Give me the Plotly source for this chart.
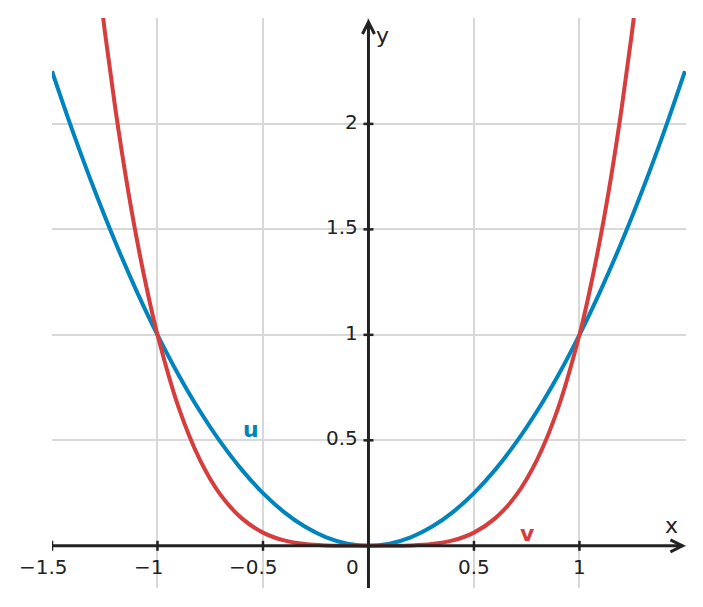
import plotly.graph_objects as go

# data
x_vals = [-1.5, -1.4, -1.3, -1.2, -1.1, -1.0, -0.9, -0.8, -0.7, -0.6, -0.5, -0.4, -0.3, -0.2, -0.1,
          0.0, 0.1, 0.2, 0.3, 0.4, 0.5, 0.6, 0.7, 0.8, 0.9, 1.0, 1.1, 1.2, 1.3, 1.4, 1.5]
u_vals = [2.25, 1.96, 1.69, 1.44, 1.21, 1.0, 0.81, 0.64, 0.49, 0.36, 0.25, 0.16, 0.09, 0.04, 0.01,
          0.0, 0.01, 0.04, 0.09, 0.16, 0.25, 0.36, 0.49, 0.64, 0.81, 1.0, 1.21, 1.44, 1.69, 1.96, 2.25]
v_x = [-1.35, -1.3, -1.25, -1.2, -1.15, -1.1, -1.05, -1.0, -0.9, -0.8, -0.7, -0.6, -0.5, -0.4, -0.3, -0.2, -0.1,
       0.0, 0.1, 0.2, 0.3, 0.4, 0.5, 0.6, 0.7, 0.8, 0.9, 1.0, 1.05, 1.1, 1.15, 1.2, 1.25, 1.3, 1.35]
v_vals = [3.32, 2.856, 2.441, 2.074, 1.749, 1.464, 1.216, 1.0, 0.656, 0.41, 0.24, 0.13, 0.0625, 0.0256, 0.0081, 0.0016, 0.0001,
          0.0, 0.0001, 0.0016, 0.0081, 0.0256, 0.0625, 0.13, 0.24, 0.41, 0.656, 1.0, 1.216, 1.464, 1.749, 2.074, 2.441, 2.856, 3.32]

x_ticks = [-1.5, -1, -0.5, 0, 0.5, 1]
x_tick_labels = ["\u22121.5", "\u22121", "\u22120.5", "0", "0.5", "1"]
y_ticks = [0.5, 1, 1.5, 2]
y_tick_labels = ["0.5", "1", "1.5", "2"]

X_MIN, X_MAX = -1.5, 1.505
Y_MIN, Y_MAX = -0.2, 2.502

BLUE = "#0084BE"
RED = "#D63D3D"
AX = "#222222"
FONT = "DejaVu Sans"

fig = go.Figure()
fig.add_trace(go.Scatter(x=x_vals, y=u_vals, mode="lines", line=dict(color=BLUE, width=4, shape="spline"),
                         hoverinfo="skip"))
fig.add_trace(go.Scatter(x=v_x, y=v_vals, mode="lines", line=dict(color=RED, width=4, shape="spline"),
                         hoverinfo="skip"))

px_x = 634 / (X_MAX - X_MIN)
px_y = 570 / (Y_MAX - Y_MIN)

shapes = []
x_tip = 1.488
y_tip = 2.483
shapes.append(dict(type="line", xref="x", yref="y", x0=X_MIN, y0=0, x1=x_tip, y1=0,
                   line=dict(color=AX, width=3), layer="above"))
shapes.append(dict(type="line", xref="x", yref="y", x0=0, y0=Y_MIN, x1=0, y1=y_tip,
                   line=dict(color=AX, width=3), layer="above"))
ax_back = 12 / px_x
ax_side = 6 / px_y
shapes.append(dict(type="path", xref="x", yref="y",
                   path=f"M {x_tip-ax_back},{ax_side} L {x_tip},0 L {x_tip-ax_back},{-ax_side}",
                   line=dict(color=AX, width=3), layer="above"))
ay_back = 12 / px_y
ay_side = 6 / px_x
shapes.append(dict(type="path", xref="x", yref="y",
                   path=f"M {-ay_side},{y_tip-ay_back} L 0,{y_tip} L {ay_side},{y_tip-ay_back}",
                   line=dict(color=AX, width=3), layer="above"))
tl_y = 5 / px_y
for t in x_ticks:
    shapes.append(dict(type="line", xref="x", yref="y", x0=t, x1=t, y0=-tl_y, y1=tl_y,
                       line=dict(color=AX, width=2.5), layer="above"))
tl_x = 5 / px_x
for t in y_ticks:
    shapes.append(dict(type="line", xref="x", yref="y", x0=-tl_x, x1=tl_x, y0=t, y1=t,
                       line=dict(color=AX, width=2.5), layer="above"))

annotations = []
for t, lab in zip(x_ticks, x_tick_labels):
    shift = 0
    if t < 0:
        shift = -9
    if t == 0:
        shift = -16
    annotations.append(dict(x=t, y=0, xref="x", yref="y", text=lab, showarrow=False,
                            xanchor="center", yanchor="top", yshift=-7, xshift=shift,
                            font=dict(family=FONT, size=20, color=AX)))
for t, lab in zip(y_ticks, y_tick_labels):
    annotations.append(dict(x=0, y=t, xref="x", yref="y", text=lab, showarrow=False,
                            xanchor="right", yanchor="middle", xshift=-8, yshift=2,
                            font=dict(family=FONT, size=20, color=AX)))
annotations.append(dict(x=1.436, y=0.095, xref="x", yref="y", text="x", showarrow=False,
                        font=dict(family=FONT, size=22, color=AX)))
annotations.append(dict(x=0.066, y=2.417, xref="x", yref="y", text="y", showarrow=False,
                        font=dict(family=FONT, size=22, color=AX)))
annotations.append(dict(x=-0.555, y=0.55, xref="x", yref="y", text="<b>u</b>", showarrow=False,
                        font=dict(family=FONT, size=22, color=BLUE)))
annotations.append(dict(x=0.754, y=0.057, xref="x", yref="y", text="<b>v</b>", showarrow=False,
                        font=dict(family=FONT, size=22, color=RED)))

fig.update_layout(
    width=703, height=607,
    margin=dict(l=52, r=17, t=18, b=19),
    paper_bgcolor="white", plot_bgcolor="white",
    showlegend=False,
    shapes=shapes,
    annotations=annotations,
    xaxis=dict(range=[X_MIN, X_MAX], tickvals=[-1.5, -1, -0.5, 0, 0.5, 1], showticklabels=False,
               showgrid=True, gridcolor="#D8D8D8", gridwidth=1.5, zeroline=False, showline=False,
               ticks="", fixedrange=True),
    yaxis=dict(range=[Y_MIN, Y_MAX], tickvals=[0, 0.5, 1, 1.5, 2, 2.5], showticklabels=False,
               showgrid=True, gridcolor="#D8D8D8", gridwidth=1.5, zeroline=False, showline=False,
               ticks="", fixedrange=True),
)

fig.write_html("out.html")
